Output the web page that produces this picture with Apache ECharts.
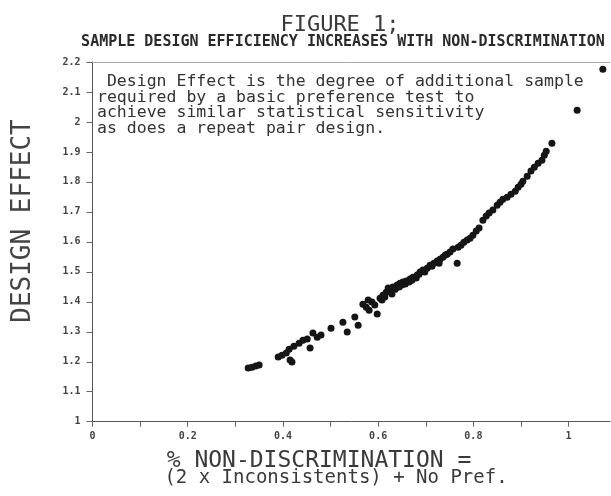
<!DOCTYPE html>
<html>
<head>
<meta charset="utf-8">
<script src="https://cdn.jsdelivr.net/npm/echarts@6/dist/echarts.min.js"></script>
<style>html,body{margin:0;padding:0;background:#fff;}#c{width:611px;height:496px;}</style>
</head>
<body>
<div id="c"></div>
<script>
// % non-discrimination (x) and design effect (y)
var nonDiscrimination = [
  0.327,0.335,0.343,0.350,0.390,0.398,0.407,0.415,0.419,0.413,0.423,0.434,0.442,0.451,0.457,
  0.463,0.472,0.480,0.501,0.526,0.535,0.551,0.558,0.568,0.575,0.581,0.587,0.598,0.604,0.610,
  0.617,0.625,0.631,0.640,0.646,0.652,0.659,0.667,0.673,0.682,0.688,0.694,0.703,0.709,0.717,
  0.724,0.730,0.736,0.745,0.751,0.757,0.766,0.768,0.774,0.780,0.787,0.793,0.799,0.806,0.812,
  0.820,0.827,0.833,0.841,0.850,0.856,0.862,0.871,0.879,0.888,0.894,0.900,0.904,0.913,0.921,
  0.928,0.936,0.944,0.949,0.953,0.965,1.018,1.072,
  0.579,0.593,0.608,0.614,0.621,0.629,0.636,0.644,0.650,0.657,0.665,0.671,0.680,0.686,0.698,
  0.713,0.728,0.741
];
var designEffect = [
  1.179,1.182,1.186,1.189,1.216,1.222,1.229,1.206,1.199,1.242,1.252,1.262,1.272,1.276,1.246,
  1.296,1.282,1.289,1.312,1.332,1.299,1.349,1.322,1.392,1.382,1.372,1.399,1.359,1.412,1.422,
  1.432,1.436,1.449,1.456,1.462,1.466,1.469,1.476,1.482,1.489,1.499,1.506,1.512,1.522,1.529,
  1.536,1.542,1.549,1.559,1.566,1.576,1.529,1.582,1.589,1.599,1.606,1.612,1.622,1.636,1.646,
  1.672,1.686,1.696,1.706,1.722,1.732,1.742,1.749,1.759,1.769,1.782,1.792,1.802,1.819,1.836,
  1.849,1.862,1.872,1.889,1.902,1.929,2.039,2.176,
  1.406,1.389,1.406,1.416,1.446,1.426,1.442,1.449,1.456,1.459,1.466,1.472,1.479,1.492,1.499,
  1.519,1.529,1.556
];
var xTickLabels = ['0','0.2','0.4','0.6','0.8','1'];
var titleText = 'FIGURE 1;';
var subtitleText = 'SAMPLE DESIGN EFFICIENCY INCREASES WITH NON-DISCRIMINATION';
var yAxisTitle = 'DESIGN EFFECT';
var xAxisTitle1 = '% NON-DISCRIMINATION =';
var xAxisTitle2 = '(2 x Inconsistents) + No Pref.';
var noteLines = [
  ' Design Effect is the degree of additional sample',
  'required by a basic preference test to',
  'achieve similar statistical sensitivity',
  'as does a repeat pair design.'
];

var points = nonDiscrimination.map(function (x, i) { return [x, designEffect[i]]; });
var MONO = '"DejaVu Sans Mono", "Liberation Mono", monospace';

var chart = echarts.init(document.getElementById('c'), null, {renderer: 'canvas'});
chart.setOption({
  animation: false,
  backgroundColor: '#ffffff',
  title: [
    {text: titleText, left: 335, top: 9, textAlign: 'center',
     textStyle: {fontFamily: MONO, fontSize: 22, fontWeight: 'normal', color: '#3a3a3a'}},
    {text: subtitleText, left: 338, top: 30, textAlign: 'center',
     textStyle: {fontFamily: MONO, fontSize: 15, fontWeight: 'bold', color: '#2a2a2a'}}
  ],
  grid: {left: 92.5, right: 1, top: 62, bottom: 74.3, containLabel: false},
  xAxis: [{
    type: 'value', min: 0, max: 1.087, interval: 0.1,
    axisLine: {show: true, lineStyle: {color: '#555', width: 1}},
    axisTick: {show: true, inside: false, length: 5, lineStyle: {color: '#666'}},
    axisLabel: {
      margin: 10, color: '#444', fontFamily: MONO, fontSize: 10, fontWeight: 'bold',
      showMaxLabel: false,
      formatter: function (v) {
        var k = Math.round(v * 10);
        if (k % 2 !== 0) return '';
        return xTickLabels[k / 2] !== undefined ? xTickLabels[k / 2] : '';
      }
    },
    splitLine: {show: false}
  }, {
    type: 'value', position: 'top', min: 0, max: 1.087,
    axisLine: {show: true, onZero: false, lineStyle: {color: '#aaa', width: 1}},
    axisTick: {show: false}, axisLabel: {show: false}, splitLine: {show: false}
  }],
  yAxis: {
    type: 'value', min: 1, max: 2.2, interval: 0.1,
    axisLine: {show: true, lineStyle: {color: '#555', width: 1}},
    axisTick: {show: true, inside: false, length: 6, lineStyle: {color: '#666'}},
    axisLabel: {
      margin: 12, color: '#444', fontFamily: MONO, fontSize: 10, fontWeight: 'bold',
      formatter: function (v) { return String(Math.round(v * 10) / 10); }
    },
    splitLine: {show: false}
  },
  series: [{
    type: 'scatter', xAxisIndex: 0, data: points,
    symbol: 'circle', symbolSize: 7,
    itemStyle: {color: '#151515', opacity: 1}
  }],
  graphic: [
    {type: 'text', x: 23, y: 221, rotation: Math.PI / 2,
     style: {text: yAxisTitle, fontFamily: MONO, fontSize: 26, fill: '#444',
             align: 'center', verticalAlign: 'middle'}},
    {type: 'text', x: 319, y: 461,
     style: {text: xAxisTitle1, fontFamily: MONO, fontSize: 23, fill: '#3a3a3a',
             align: 'center', verticalAlign: 'middle'}},
    {type: 'text', x: 336, y: 478,
     style: {text: xAxisTitle2, fontFamily: MONO, fontSize: 19, fill: '#3a3a3a',
             align: 'center', verticalAlign: 'middle'}},
    {type: 'text', x: 97, y: 74,
     style: {text: noteLines.join('\n'), fontFamily: MONO, fontSize: 16.5, fill: '#333',
             lineHeight: 15.5, align: 'left', verticalAlign: 'top'}}
  ]
});
</script>
</body>
</html>
